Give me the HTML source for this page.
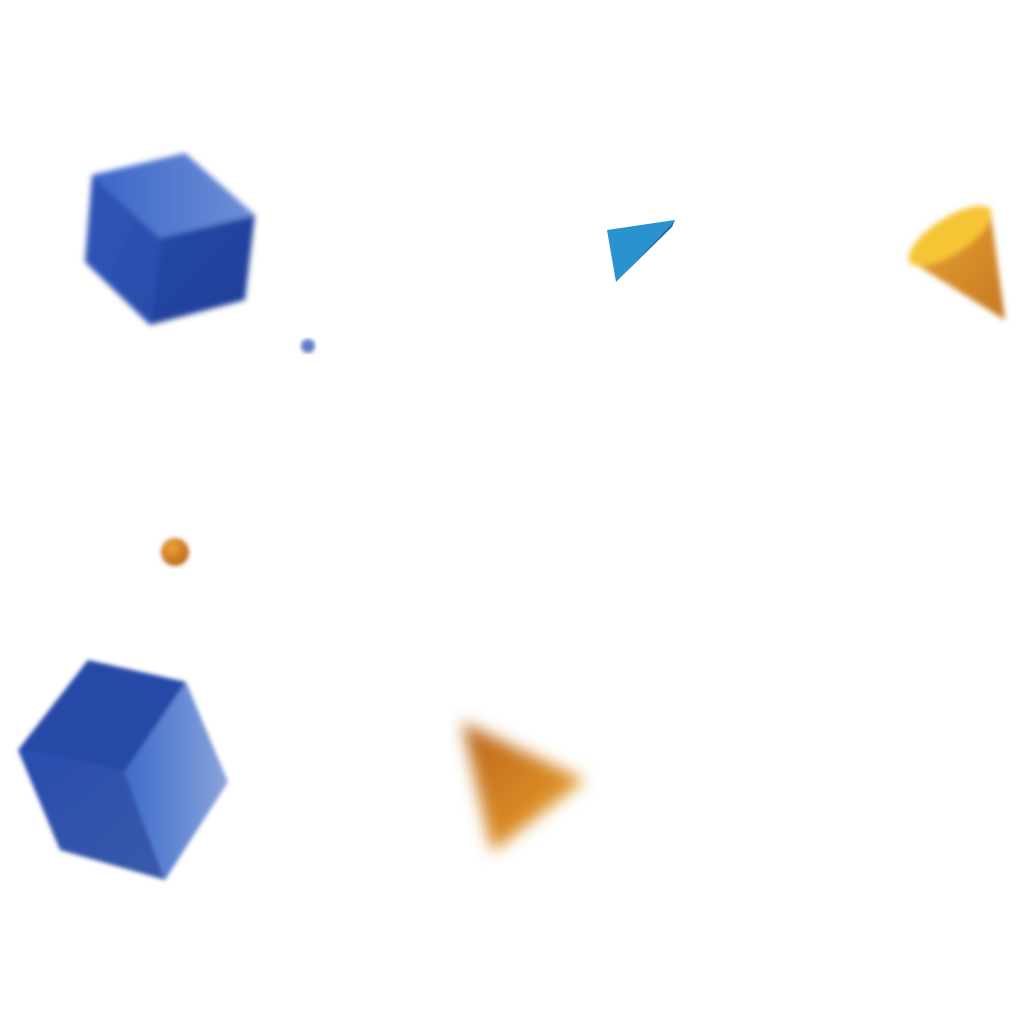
<!DOCTYPE html>
<html><head><meta charset="utf-8"><style>
html,body{margin:0;padding:0;background:#fff;width:1024px;height:1024px;overflow:hidden}
svg{display:block}
</style></head><body>
<svg width="1024" height="1024" viewBox="0 0 1024 1024">
<defs>
<filter id="b2"><feGaussianBlur stdDeviation="2"/></filter>
<filter id="b3"><feGaussianBlur stdDeviation="3"/></filter>
<filter id="b8"><feGaussianBlur stdDeviation="8"/></filter>
<linearGradient id="topA" x1="0" y1="0" x2="1" y2="0"><stop offset="0" stop-color="#3a66c8"/><stop offset="1" stop-color="#6f8fd6"/></linearGradient>
<linearGradient id="leftA" x1="0" y1="0" x2="1" y2="1"><stop offset="0" stop-color="#2f55b8"/><stop offset="1" stop-color="#2a4cab"/></linearGradient>
<linearGradient id="rightA" x1="0" y1="0" x2="1" y2="1"><stop offset="0" stop-color="#2548a8"/><stop offset="1" stop-color="#1f3f98"/></linearGradient>
<linearGradient id="rightB" x1="0" y1="0" x2="1" y2="0"><stop offset="0" stop-color="#3d6ccc"/><stop offset="1" stop-color="#8aa3da"/></linearGradient>
<linearGradient id="leftB" x1="0" y1="0" x2="1" y2="1"><stop offset="0" stop-color="#284caf"/><stop offset="1" stop-color="#3a5aa8"/></linearGradient>
<linearGradient id="cone1" x1="0" y1="0" x2="1" y2="1"><stop offset="0" stop-color="#e9a53a"/><stop offset="1" stop-color="#c6781e"/></linearGradient>
<linearGradient id="cone2" x1="0" y1="0" x2="1" y2="1"><stop offset="0" stop-color="#b8641a"/><stop offset="0.6" stop-color="#d98a25"/><stop offset="1" stop-color="#f2bf30"/></linearGradient>
<radialGradient id="sph" cx="0.4" cy="0.35" r="0.7"><stop offset="0" stop-color="#f0a33a"/><stop offset="1" stop-color="#b8621a"/></radialGradient>
</defs>

<g filter="url(#b3)">
<polygon points="92,175 185,153 255,215 160,238" fill="url(#topA)"/>
<polygon points="92,175 160,238 150,325 85,262" fill="url(#leftA)"/>
<polygon points="160,238 255,215 245,300 150,325" fill="url(#rightA)"/>
</g>

<circle cx="308" cy="346" r="7" fill="#5f7cc8" filter="url(#b2)"/>

<g>
<polygon points="607,230 675,220 616,282" fill="#2a92cf"/>
<polygon points="675,220 616,282 622,276 672,227" fill="#1d6fb0"/>
</g>

<g filter="url(#b3)">
<polygon points="912,262 990,207 1005,320" fill="url(#cone1)"/>
<ellipse cx="950" cy="236" rx="48" ry="18" transform="rotate(-33 950 236)" fill="#f6c534"/>
</g>

<circle cx="175" cy="552" r="14" fill="url(#sph)" filter="url(#b2)"/>

<g filter="url(#b2)">
<polygon points="18,750 88,660 186,682 125,772" fill="#2548a8"/>
<polygon points="18,750 125,772 165,880 60,850" fill="url(#leftB)"/>
<polygon points="186,682 228,782 165,880 125,772" fill="url(#rightB)"/>
</g>

<g filter="url(#b8)">
<polygon points="462,722 585,780 492,852" fill="url(#cone2)"/>
</g>
</svg>
</body></html>
